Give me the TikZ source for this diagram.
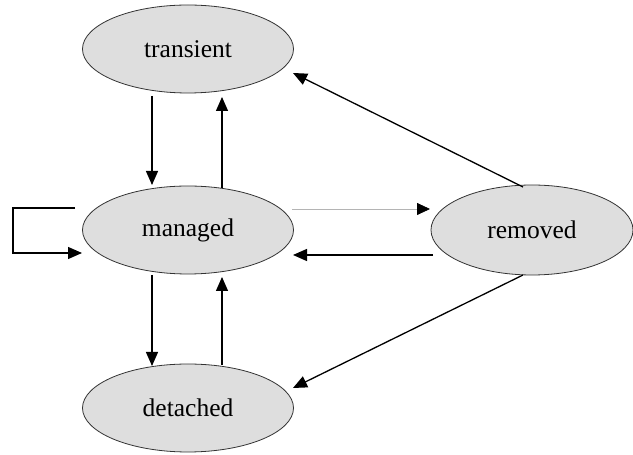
\documentclass[tikz,border=0pt]{standalone}
\usepackage{fontspec}
\setmainfont{Liberation Serif}
\usetikzlibrary{shapes.geometric,arrows.meta,calc}

\definecolor{statefill}{HTML}{DEDEDE}
\definecolor{thinline}{HTML}{B4B4B4}

\tikzset{
  state/.style={ellipse, draw=black!80, line width=0.8pt, fill=statefill,
    minimum width=211pt, minimum height=88pt, inner sep=0pt,
    font=\fontsize{25.5}{30}\selectfont},
  trans/.style={line width=1.3pt, -{Triangle[length=14pt,width=12pt]}},
  faint/.style={draw=thinline, line width=0.8pt,
    -{Triangle[length=13pt,width=12pt,color=black,fill=black]}}
}

\begin{document}
\begin{tikzpicture}[x=1pt,y=1pt]
  \useasboundingbox (0,0) rectangle (633,455);

  % states
  \node[state] (transient) at (188,406) {transient};
  \node[state] (managed)   at (188,225) {managed};
  \node[state] (detached)  at (188,47)  {detached};
  \node[state, minimum width=202pt, minimum height=90pt] (removed) at (532,225) {removed};

  % transient <-> managed
  \draw[trans] ($(transient)+(-36,-47)$) -- ($(managed)+(-36,45)$);
  \draw[trans] ($(managed)+(34,42)$) -- ($(transient)+(34,-48)$);

  % managed <-> detached
  \draw[trans] ($(managed)+(-36,-45)$) -- ($(detached)+(-36,42)$);
  \draw[trans] ($(detached)+(34,43)$) -- ($(managed)+(34,-47)$);

  % self loop on managed
  \coordinate (loopA) at ($(managed)+(-113,22)$);
  \coordinate (loopB) at ($(managed)+(-106,-23)$);
  \draw[trans] (loopA) -- (13,247) -- (13,202) -- (loopB);

  % managed <-> removed
  \draw[faint] ($(managed)+(104,21)$) -- ($(removed)+(-102,21)$);
  \draw[trans] ($(removed)+(-99,-25)$) -- ($(managed)+(105,-25)$);

  % removed -> transient, removed -> detached
  \draw[trans] ($(removed)+(-9,43)$) -- ($(transient)+(105,-24)$);
  \draw[trans] ($(removed)+(-9,-45)$) -- ($(detached)+(105,20)$);
\end{tikzpicture}
\end{document}
